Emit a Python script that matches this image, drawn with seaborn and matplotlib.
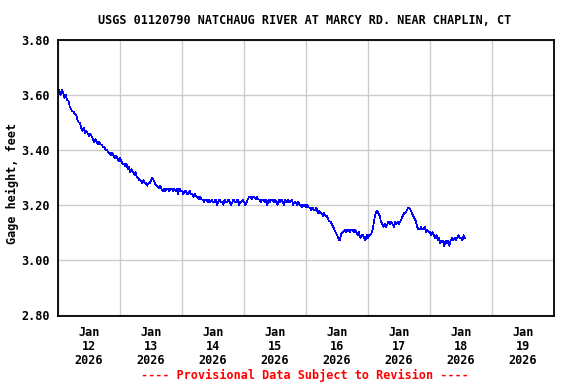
import matplotlib
matplotlib.use("Agg")
import pandas as pd
import matplotlib.pyplot as plt
import matplotlib.dates as mdates
from matplotlib.ticker import MultipleLocator, FormatStrFormatter
import seaborn as sns

title = "USGS 01120790 NATCHAUG RIVER AT MARCY RD. NEAR CHAPLIN, CT"
footer = "---- Provisional Data Subject to Revision ----"
ylabel = "Gage height, feet"

# 30-minute readings starting Jan 11 2026 12:00
start = "2026-01-11 12:00"
step = "30min"
gage = [
    3.61, 3.62, 3.60, 3.62, 3.61, 3.59, 3.60, 3.58, 3.58, 3.56, 3.55, 3.54,
    3.54, 3.53, 3.53, 3.51, 3.50, 3.50, 3.48, 3.47, 3.48, 3.46, 3.47, 3.46,
    3.45, 3.46, 3.45, 3.44, 3.43, 3.44, 3.43, 3.42, 3.43, 3.42, 3.42, 3.41,
    3.41, 3.40, 3.40, 3.39, 3.39, 3.38, 3.39, 3.38, 3.37, 3.38, 3.37, 3.36,
    3.37, 3.36, 3.35, 3.35, 3.34, 3.35, 3.33, 3.34, 3.32, 3.33, 3.32, 3.31,
    3.32, 3.30, 3.30, 3.29, 3.29, 3.28, 3.29, 3.28, 3.28, 3.27, 3.28, 3.28,
    3.29, 3.30, 3.29, 3.28, 3.27, 3.27, 3.26, 3.27, 3.26, 3.25, 3.26, 3.25,
    3.26, 3.26, 3.25, 3.26, 3.26, 3.25, 3.26, 3.25, 3.26, 3.24, 3.26, 3.25,
    3.25, 3.24, 3.25, 3.25, 3.24, 3.24, 3.25, 3.24, 3.24, 3.23, 3.24, 3.23,
    3.23, 3.22, 3.23, 3.22, 3.22, 3.21, 3.22, 3.22, 3.21, 3.22, 3.21, 3.22,
    3.21, 3.21, 3.22, 3.20, 3.21, 3.22, 3.21, 3.21, 3.20, 3.22, 3.21, 3.21,
    3.22, 3.21, 3.20, 3.21, 3.22, 3.21, 3.21, 3.22, 3.20, 3.21, 3.21, 3.22,
    3.21, 3.20, 3.21, 3.22, 3.23, 3.23, 3.22, 3.23, 3.23, 3.22, 3.23, 3.22,
    3.22, 3.21, 3.22, 3.22, 3.21, 3.22, 3.20, 3.22, 3.21, 3.22, 3.22, 3.21,
    3.22, 3.21, 3.20, 3.22, 3.21, 3.22, 3.21, 3.20, 3.22, 3.21, 3.22, 3.21,
    3.21, 3.22, 3.20, 3.21, 3.21, 3.20, 3.21, 3.20, 3.20, 3.19, 3.20, 3.20,
    3.19, 3.20, 3.19, 3.19, 3.18, 3.19, 3.18, 3.18, 3.19, 3.17, 3.18, 3.17,
    3.17, 3.16, 3.17, 3.16, 3.16, 3.15, 3.14, 3.14, 3.13, 3.12, 3.11, 3.10,
    3.09, 3.08, 3.07, 3.09, 3.10, 3.10, 3.11, 3.10, 3.11, 3.11, 3.10, 3.11,
    3.11, 3.10, 3.11, 3.10, 3.09, 3.10, 3.08, 3.09, 3.09, 3.08, 3.07, 3.09,
    3.08, 3.09, 3.09, 3.10, 3.12, 3.15, 3.17, 3.18, 3.17, 3.16, 3.14, 3.13,
    3.12, 3.13, 3.12, 3.13, 3.14, 3.13, 3.14, 3.13, 3.12, 3.14, 3.13, 3.14,
    3.13, 3.14, 3.15, 3.16, 3.17, 3.17, 3.18, 3.19, 3.19, 3.18, 3.17, 3.16,
    3.15, 3.14, 3.12, 3.11, 3.11, 3.12, 3.11, 3.11, 3.12, 3.10, 3.11, 3.10,
    3.10, 3.09, 3.10, 3.09, 3.08, 3.09, 3.07, 3.08, 3.06, 3.07, 3.07, 3.05,
    3.07, 3.06, 3.07, 3.05, 3.07, 3.08, 3.07, 3.08, 3.07, 3.08, 3.09, 3.08,
    3.08, 3.07, 3.09, 3.08,
]

df = pd.DataFrame({
    "time": pd.date_range(start, periods=len(gage), freq=step),
    "gage": gage,
})

sns.set_theme(style="white")
plt.rcParams['font.family'] = ['DejaVu Sans Mono']
plt.rcParams['font.weight'] = 'bold'
plt.rcParams['text.color'] = 'black'
plt.rcParams['axes.labelcolor'] = 'black'
plt.rcParams['xtick.color'] = 'black'
plt.rcParams['ytick.color'] = 'black'

fig = plt.figure(figsize=(5.76, 3.84), dpi=100)
ax = fig.add_axes([58/576, 1 - 316/384, 496/576, 276/384])

sns.lineplot(data=df, x="time", y="gage", color="#0000ff", lw=0.5,
             antialiased=False, ax=ax)

ax.set_xlim(pd.Timestamp("2026-01-11 12:00"), pd.Timestamp("2026-01-19 12:00"))
ax.set_ylim(2.795, 3.801)

ax.yaxis.set_major_locator(MultipleLocator(0.2))
ax.yaxis.set_major_formatter(FormatStrFormatter('%.2f'))
ax.xaxis.set_major_locator(mdates.DayLocator())
ax.xaxis.set_minor_locator(mdates.HourLocator(byhour=12))
ax.xaxis.set_major_formatter(mdates.DateFormatter("%b\n%d\n%Y"))

ax.grid(visible=False, which='major', axis='x')
ax.grid(visible=True, which='minor', axis='x', color='#cccccc', lw=1)
ax.grid(visible=True, which='major', axis='y', color='#cccccc', lw=1)
ax.set_axisbelow(True)

ax.tick_params(axis='both', which='both', length=0, labelsize=8.5)
ax.tick_params(axis='x', pad=7)
ax.tick_params(axis='y', pad=6)
plt.setp(ax.get_xticklabels(), linespacing=1.1, weight='bold')
plt.setp(ax.get_yticklabels(), weight='bold')

for s in ax.spines.values():
    s.set_color('black')
    s.set_linewidth(1.3)

ax.set_xlabel("")
ax.set_ylabel(ylabel, fontsize=8.5, weight='bold')
ax.yaxis.set_label_coords(-0.078, 0.48)

fig.text(305/576, 1 - 20/384, title, ha='center', va='center', fontsize=8.5, weight='bold')
fig.text(305/576, 1 - 375/384, footer, ha='center', va='center', fontsize=8.5,
         weight='bold', color='#ff0000')

fig.savefig("out.png", dpi=100)
